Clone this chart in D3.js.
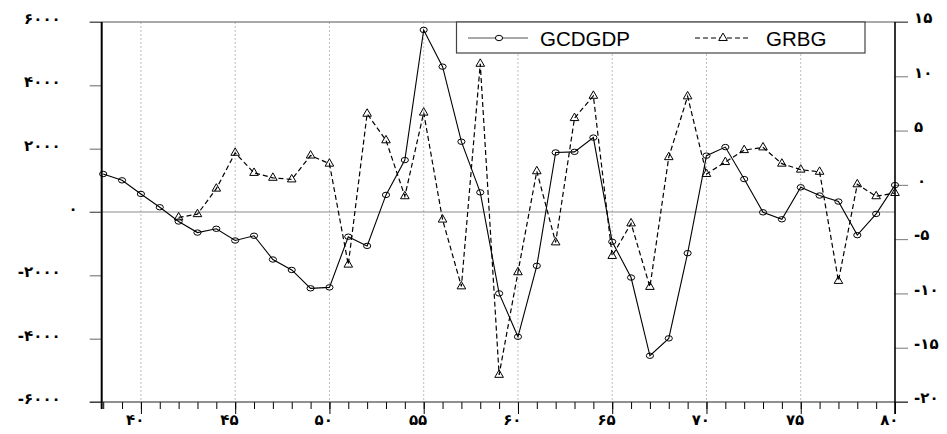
<!DOCTYPE html>
<html>
<head>
<meta charset="utf-8">
<script src="https://cdn.jsdelivr.net/npm/d3@7"></script>
<style>
  body { margin: 0; background: #fff; }
  svg { display: block; }
  .tick text { font-family: "DejaVu Sans", sans-serif; font-size: 15px; font-weight: bold; }
</style>
</head>
<body>
<svg width="947" height="434"></svg>
<script>
// years on the x axis (Iranian calendar, 13xx)
var years = [38, 39, 40, 41, 42, 43, 44, 45, 46, 47, 48, 49, 50, 51, 52, 53, 54, 55, 56, 57, 58,
             59, 60, 61, 62, 63, 64, 65, 66, 67, 68, 69, 70, 71, 72, 73, 74, 75, 76, 77, 78, 79, 80];

// GCDGDP, left axis
var gcdgdp = [1200, 1000, 570, 150, -300, -650, -530, -900, -750, -1500, -1830, -2410, -2380,
              -780, -1070, 540, 1640, 5750, 4590, 2220, 620, -2570, -3940, -1700, 1880, 1900, 2350,
              -940, -2070, -4540, -3990, -1300, 1780, 2050, 1040, -10, -230, 780, 520, 330, -730, -60, 850];

// GRBG, right axis (starts in 42)
var grbg = [null, null, null, null, -3.0, -2.7, -0.35, 2.95, 1.1, 0.65, 0.5, 2.7, 1.95,
            -7.35, 6.55, 4.1, -1.05, 6.65, -3.2, -9.35, 11.15, -17.5, -8.05, 1.25, -5.3, 6.15, 8.2,
            -6.55, -3.55, -9.4, 2.55, 8.15, 1.0, 2.1, 3.2, 3.45, 1.95, 1.4, 1.2, -8.85, 0.05, -1.05, -0.75];

var majorYears = [40, 45, 50, 55, 60, 65, 70, 75, 80];
var gridYears = [40, 45, 50, 55, 60, 65, 70, 75];
var leftTicks = [-6000, -4000, -2000, 0, 2000, 4000, 6000];
var rightTicks = [-20, -15, -10, -5, 0, 5, 10, 15];

var faDigits = "۰۱۲۳۴۵۶۷۸۹";
function fa(d) { return String(d).replace(/\d/g, function(c) { return faDigits[+c]; }); }

var svg = d3.select("svg"),
    pLeft = 101.7, pRight = 895, pTop = 22, pBottom = 402;

var x = d3.scaleLinear().domain([37.92, 80]).range([pLeft, pRight]),
    yL = d3.scaleLinear().domain([-6000, 6000]).range([pBottom, pTop]),
    yR = d3.scaleLinear().domain([-20, 15]).range([pBottom, pTop]);

// vertical dotted grid
svg.append("g").selectAll("line")
  .data(gridYears)
  .enter().append("line")
    .attr("x1", function(d) { return x(d); })
    .attr("x2", function(d) { return x(d); })
    .attr("y1", pTop).attr("y2", pBottom)
    .attr("stroke", "#bdbdbd")
    .attr("stroke-dasharray", "2,2");

// zero line of the left axis
svg.append("line")
    .attr("x1", pLeft - 12).attr("x2", pRight)
    .attr("y1", yL(0)).attr("y2", yL(0))
    .attr("stroke", "#8c8c8c").attr("stroke-width", 1.2);

// axes
var xMinor = svg.append("g")
    .attr("transform", "translate(0," + pBottom + ")")
    .call(d3.axisBottom(x).tickValues(years).tickSize(7).tickFormat(""));
xMinor.select(".domain").remove();

var xMajor = svg.append("g")
    .attr("transform", "translate(0," + pBottom + ")")
    .call(d3.axisBottom(x).tickValues(majorYears).tickSize(12).tickPadding(3).tickFormat(fa));
xMajor.select(".domain").remove();
xMajor.selectAll("text")
    .attr("text-anchor", "end")
    .attr("x", 3)
    .attr("dy", "0.5em");

var yLeft = svg.append("g")
    .attr("transform", "translate(" + pLeft + ",0)")
    .call(d3.axisLeft(yL).tickValues(leftTicks).tickSize(12).tickFormat(fa));
yLeft.select(".domain").remove();
yLeft.selectAll(".tick line").attr("stroke", "#666");
yLeft.selectAll("text")
    .attr("dy", "0.1em")
    .attr("x", function(d) { return d === 0 ? -24 : -41; });

var yRight = svg.append("g")
    .attr("transform", "translate(" + pRight + ",0)")
    .call(d3.axisRight(yR).tickValues(rightTicks).tickSize(13).tickFormat(fa));
yRight.select(".domain").remove();
yRight.selectAll(".tick line").attr("stroke", "#777");
yRight.selectAll("text")
    .attr("x", function(d) { return d === 0 ? 22 : 19; })
    .attr("dy", "0.05em");

svg.selectAll(".tick text").attr("fill", "#000");

// frame
svg.append("line").attr("x1", pLeft - 12).attr("x2", pRight + 13).attr("y1", pTop).attr("y2", pTop)
    .attr("stroke", "#555").attr("stroke-width", 1.2);
svg.append("line").attr("x1", pLeft - 12).attr("x2", pRight + 13).attr("y1", pBottom).attr("y2", pBottom)
    .attr("stroke", "#222").attr("stroke-width", 1.2);
svg.append("line").attr("x1", pLeft).attr("x2", pLeft).attr("y1", pTop).attr("y2", pBottom + 7)
    .attr("stroke", "#000").attr("stroke-width", 2);
svg.append("line").attr("x1", pRight).attr("x2", pRight).attr("y1", pTop).attr("y2", pBottom + 12)
    .attr("stroke", "#000").attr("stroke-width", 1.6);

// series
var gcdPts = years.map(function(d, i) { return {year: d, value: gcdgdp[i]}; });
var grbPts = years.map(function(d, i) { return {year: d, value: grbg[i]}; })
    .filter(function(d) { return d.value !== null; });

var lineL = d3.line().x(function(d) { return x(d.year); }).y(function(d) { return yL(d.value); });
var lineR = d3.line().x(function(d) { return x(d.year); }).y(function(d) { return yR(d.value); });

var triangle = d3.symbol().type(d3.symbolTriangle).size(32);

svg.append("path")
    .datum(grbPts)
    .attr("fill", "none")
    .attr("stroke", "#000")
    .attr("stroke-width", 1.2)
    .attr("stroke-dasharray", "5,3")
    .attr("d", lineR);

svg.append("g").selectAll("path")
  .data(grbPts)
  .enter().append("path")
    .attr("transform", function(d) { return "translate(" + x(d.year) + "," + yR(d.value) + ")"; })
    .attr("d", triangle)
    .attr("fill", "none")
    .attr("stroke", "#000")
    .attr("stroke-width", 1);

svg.append("path")
    .datum(gcdPts)
    .attr("fill", "none")
    .attr("stroke", "#000")
    .attr("stroke-width", 1.1)
    .attr("d", lineL);

svg.append("g").selectAll("ellipse")
  .data(gcdPts)
  .enter().append("ellipse")
    .attr("cx", function(d) { return x(d.year); })
    .attr("cy", function(d) { return yL(d.value); })
    .attr("rx", 3.6).attr("ry", 2.7)
    .attr("fill", "none")
    .attr("stroke", "#000")
    .attr("stroke-width", 1);

// legend
var legend = svg.append("g");
legend.append("rect")
    .attr("x", 456.5).attr("y", pTop).attr("width", 408.5).attr("height", 31)
    .attr("fill", "#fff").attr("stroke", "#444").attr("stroke-width", 1.2);

legend.append("line").attr("x1", 468).attr("x2", 528).attr("y1", 38).attr("y2", 38)
    .attr("stroke", "#555").attr("stroke-width", 1.1);
legend.append("ellipse").attr("cx", 499).attr("cy", 38).attr("rx", 3.6).attr("ry", 2.7)
    .attr("fill", "#fff").attr("stroke", "#000");
legend.append("text").attr("x", 540).attr("y", 45.5)
    .style("font", "20.5px 'Liberation Sans', Arial, sans-serif")
    .text("GCDGDP");

legend.append("line").attr("x1", 695).attr("x2", 749).attr("y1", 38).attr("y2", 38)
    .attr("stroke", "#000").attr("stroke-width", 1.1).attr("stroke-dasharray", "5,3");
legend.append("path").attr("transform", "translate(723,38)").attr("d", triangle)
    .attr("fill", "#fff").attr("stroke", "#000");
legend.append("text").attr("x", 766).attr("y", 45.5)
    .style("font", "20.5px 'Liberation Sans', Arial, sans-serif")
    .text("GRBG");
</script>
</body>
</html>
